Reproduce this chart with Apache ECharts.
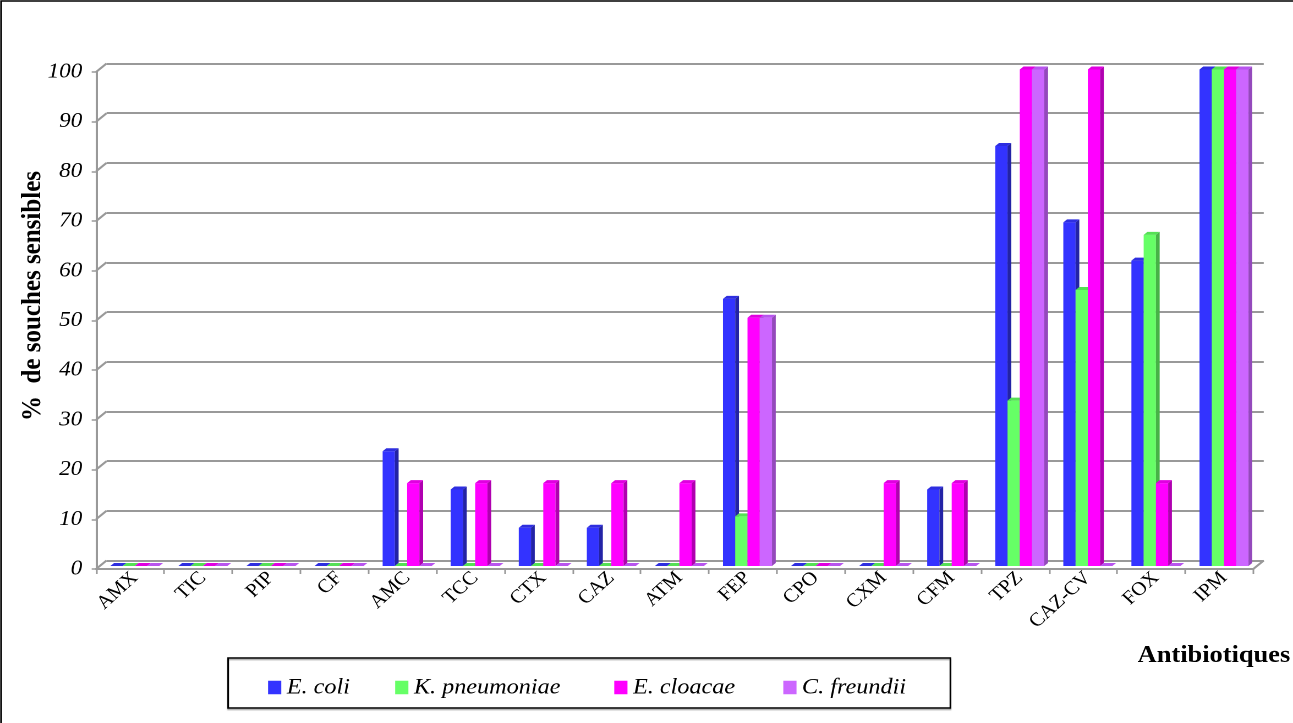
<!DOCTYPE html>
<html>
<head>
<meta charset="utf-8">
<script src="https://cdn.jsdelivr.net/npm/echarts@6/dist/echarts.min.js"></script>
<style>
  html, body { margin: 0; padding: 0; background: #fff; overflow: hidden; }
  #stage { width: 1293px; height: 723px; overflow: hidden; }
  /* the chart is laid out slightly narrower and widened horizontally */
  #chart { width: 1175px; height: 723px; transform: scaleX(1.10043); transform-origin: 0 0; }
</style>
</head>
<body>
<div id="stage"><div id="chart"></div></div>
<script>
// ---- data ----
const categories = ['AMX', 'TIC', 'PIP', 'CF', 'AMC', 'TCC', 'CTX', 'CAZ', 'ATM', 'FEP',
                    'CPO', 'CXM', 'CFM', 'TPZ', 'CAZ-CV', 'FOX', 'IPM'];
const eColi       = [0, 0, 0, 0, 23.1, 15.4, 7.7, 7.7, 0, 53.8, 0, 0, 15.4, 84.6, 69.2, 61.5, 100];
const kPneumoniae = [0, 0, 0, 0, 0, 0, 0, 0, 0, 10, 0, 0, 0, 33.3, 55.6, 66.7, 100];
const eCloacae    = [0, 0, 0, 0, 16.7, 16.7, 16.7, 16.7, 16.7, 50, 0, 16.7, 16.7, 100, 100, 16.7, 100];
const cFreundii   = [0, 0, 0, 0, 0, 0, 0, 0, 0, 50, 0, 0, 0, 100, 0, 0, 100];
const seriesNames = ['E. coli', 'K. pneumoniae', 'E. cloacae', 'C. freundii'];
const yTicks = [0, 10, 20, 30, 40, 50, 60, 70, 80, 90, 100];
const yAxisTitle = '%  de souches sensibles';
const xAxisTitle = 'Antibiotiques';

// ---- layout: front wall, bar plane, back wall (pseudo 3D) ----
const FRONT = { left: 87.3, top: 72, width: 1051.6, height: 497 };
const BARS  = { left: 91.6, top: 69.5, width: 1051.6, height: 496.5 };
const BACK  = { left: 96.8, top: 63.5, width: 1051.6, height: 497 };
const DEPTH_X = 3.4, DEPTH_Y = 3;        // bar side / top face offset
const GRID_GRAY = '#999999';
const SERIF = 'Liberation Serif';

const PALETTE = [
  { front: '#3333FF', side: '#2323A6', top: '#2E2EE0' },
  { front: '#66FF66', side: '#47B347', top: '#55E055' },
  { front: '#FF00FF', side: '#B000B0', top: '#E000E0' },
  { front: '#CC66FF', side: '#9449BC', top: '#B855EE' }
];

const seriesValues = [eColi, kPneumoniae, eCloacae, cFreundii];

function barRenderer(k) {
  return function (params, api) {
    const i = api.value(0), v = api.value(1);
    const base = api.coord([i, 0]);
    const top = api.coord([i, v]);
    const bw = api.size([1, 0])[0] * 0.18;
    const x0 = base[0] - 2 * bw + k * bw;
    const x1 = x0 + bw;
    const yb = base[1], yt = top[1];
    const c = PALETTE[k];
    const children = [];
    if (yb - yt > 0.5) {
      children.push({ type: 'rect', shape: { x: x0, y: yt, width: bw, height: yb - yt },
                      style: { fill: c.front } });
      children.push({ type: 'polygon',
                      shape: { points: [[x1, yt], [x1 + DEPTH_X, yt - DEPTH_Y], [x1 + DEPTH_X, yb - DEPTH_Y], [x1, yb]] },
                      style: { fill: c.side } });
    }
    children.push({ type: 'polygon',
                    shape: { points: [[x0, yt], [x1, yt], [x1 + DEPTH_X, yt - DEPTH_Y], [x0 + DEPTH_X, yt - DEPTH_Y]] },
                    style: { fill: c.top } });
    return { type: 'group', children: children };
  };
}

// slanted joins between the front axis and the back wall grid lines
function wallRenderer(params, api) {
  const cs = params.coordSys;
  const v = api.value(1);
  const y = api.coord([0, v])[1];
  const dx = BACK.left - FRONT.left, dy = BACK.top - FRONT.top;
  const lineStyle = { stroke: GRID_GRAY, lineWidth: 2 };
  const children = [{ type: 'line', shape: { x1: cs.x, y1: y, x2: cs.x + dx, y2: y + dy }, style: lineStyle }];
  if (v === 0) {
    children.push({ type: 'line',
                    shape: { x1: cs.x + cs.width, y1: y, x2: cs.x + cs.width + dx, y2: y + dy },
                    style: lineStyle });
  }
  return { type: 'group', children: children };
}

const legendLefts = [243.6, 359.1, 558.2, 711.8];

const option = {
  animation: false,
  backgroundColor: '#ffffff',
  grid: [
    Object.assign({ containLabel: false }, FRONT),
    Object.assign({ containLabel: false }, BARS),
    Object.assign({ containLabel: false }, BACK)
  ],
  xAxis: [
    { gridIndex: 0, type: 'category', data: categories,
      axisLine: { show: true, lineStyle: { color: GRID_GRAY, width: 2 } },
      axisTick: { show: true, length: 5, lineStyle: { color: GRID_GRAY, width: 1.5 } },
      axisLabel: { show: false }, splitLine: { show: false } },
    { gridIndex: 1, type: 'category', data: categories,
      axisLine: { show: false }, axisTick: { show: false }, splitLine: { show: false },
      axisLabel: { show: true, interval: 0, rotate: 45, margin: 9,
                   color: '#000', fontFamily: SERIF, fontSize: 19 } },
    { gridIndex: 2, type: 'category', data: categories, show: false }
  ],
  yAxis: [
    { gridIndex: 0, type: 'value', min: 0, max: 100, interval: 10,
      axisLine: { show: true, lineStyle: { color: GRID_GRAY, width: 2 } },
      axisTick: { show: true, length: 4, lineStyle: { color: GRID_GRAY, width: 1.5 } },
      splitLine: { show: false },
      axisLabel: { show: true, margin: 12.5, color: '#000', fontFamily: SERIF,
                   fontStyle: 'italic', fontSize: 21 } },
    { gridIndex: 1, type: 'value', min: 0, max: 100, interval: 10, show: false },
    { gridIndex: 2, type: 'value', min: 0, max: 100, interval: 10,
      axisLine: { show: false }, axisTick: { show: false }, axisLabel: { show: false },
      splitLine: { show: true, lineStyle: { color: GRID_GRAY, width: 2 } } }
  ],
  legend: seriesNames.map(function (name, k) {
    return {
      data: [name], left: legendLefts[k], top: 676.5, orient: 'horizontal',
      icon: 'rect', itemWidth: 12, itemHeight: 13.5, padding: 0,
      selectedMode: false,
      textStyle: { color: '#000', fontFamily: SERIF, fontStyle: 'italic', fontSize: 22 }
    };
  }),
  series: [
    { type: 'custom', name: 'wall', xAxisIndex: 0, yAxisIndex: 0, silent: true, clip: false,
      data: yTicks.map(function (v) { return [0, v]; }), renderItem: wallRenderer, z: 1 }
  ].concat(seriesValues.map(function (vals, k) {
    return {
      type: 'custom', name: seriesNames[k], xAxisIndex: 1, yAxisIndex: 1,
      clip: false, silent: true, z: 3,
      itemStyle: { color: PALETTE[k].front },
      data: vals.map(function (v, i) { return [i, v]; }),
      renderItem: barRenderer(k)
    };
  })),
  graphic: [
    { type: 'text', x: 30, y: 296, rotation: Math.PI / 2,
      style: { text: yAxisTitle, font: 'bold 25px "Liberation Serif"', fill: '#000',
               textAlign: 'center', textVerticalAlign: 'middle' } },
    { type: 'text', x: 1172.5, y: 656,
      style: { text: xAxisTitle, font: 'bold 24px "Liberation Serif"', fill: '#000',
               textAlign: 'right', textVerticalAlign: 'middle' } },
    { type: 'rect', shape: { x: 207.3, y: 658, width: 656.4, height: 50 },
      style: { fill: 'transparent', stroke: '#000', lineWidth: 1.5,
               shadowColor: 'rgba(0,0,0,0.35)', shadowOffsetY: 1.5, shadowBlur: 1 }, z: -1 },
    { type: 'polyline', shape: { points: [[1, 723], [1, 1], [1175, 1]] },
      style: { stroke: '#000', lineWidth: 1.6, fill: null } }
  ]
};

const chart = echarts.init(document.getElementById('chart'), null, { renderer: 'canvas', devicePixelRatio: 2 });
chart.setOption(option);
</script>
</body>
</html>
